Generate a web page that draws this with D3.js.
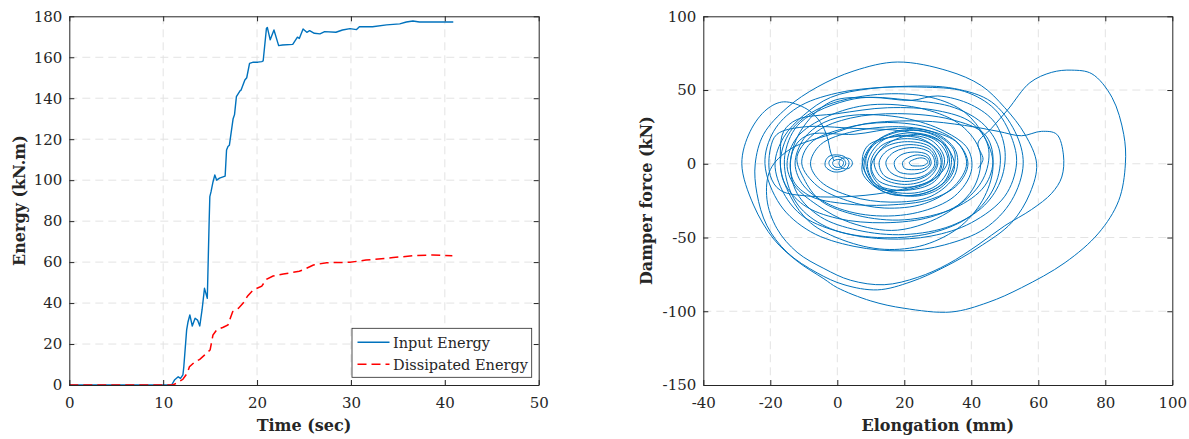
<!DOCTYPE html>
<html><head><meta charset="utf-8">
<script src="https://cdn.jsdelivr.net/npm/d3@7"></script>
<style>
body{margin:0;background:#fff}
svg{display:block}
text{font-family:"DejaVu Serif",serif;fill:#262626}
</style>
</head><body>
<svg id="c" width="1189" height="439"></svg>
<script>
// ---------- Left panel data ----------
const timeTicks = [0,10,20,30,40,50];
const energyTicks = [0,20,40,60,80,100,120,140,160,180];
const inputTime = [0,10.9,11.2,11.6,11.85,12.1,12.2,12.5,12.65,12.84,13.1,13.4,13.66,13.9,14.15,14.4,14.7,14.9,14.97,15.1,15.3,15.5,15.7,16.0,16.6,16.75,16.9,17.05,17.45,17.6,17.8,18.2,18.3,18.7,18.9,19.2,19.6,20.1,20.5,20.65,21.0,21.1,21.4,21.8,22.3,22.7,23.8,24.3,24.5,24.9,25.3,25.6,26.1,26.7,27.2,28.4,29.1,29.9,30.6,30.9,32.3,33.8,35.2,35.9,36.6,37.3,38.7,40.9];
const inputEnergy = [0,0,2.4,4,3.2,4.9,9,26.9,30.9,34.2,28.8,32.6,31.7,28.8,37,47.2,42.3,80.5,92,94.4,99,102.5,100,101,102,114.7,116.4,117,130,132,140.8,143.7,144,148.9,150,157,157.6,157.6,157.9,158.2,174.1,174.5,168.5,173.3,165.7,166,166.3,169.8,169.2,173.8,172.2,173,171.7,171.4,172.5,172.2,173.3,174,173.5,174.9,174.9,175.8,176.3,177.2,177.7,177.2,177.2,177.2];
const dissTime = [0,11.0,11.4,12.1,12.55,12.8,13.4,13.9,14.4,15.0,15.3,15.7,16.4,16.9,17.4,18.0,18.5,19.0,19.6,20.5,21.0,21.7,22.8,24.5,25.1,26.0,27.4,29.9,31.6,34.5,36.6,38.7,40.8];
const dissEnergy = [0,0,0.8,2.8,5.7,8.9,11.4,12.5,14.6,17.1,24.4,26.9,28.2,29.3,35.8,37.4,39.9,43.5,46.4,48.3,51.6,53.2,54.2,55.5,56.6,58.6,59.7,59.9,61,62.2,63.1,63.5,63.1];
const seriesNames = ["Input Energy","Dissipated Energy"];

// ---------- Right panel data ----------
const elongTicks = [-40,-20,0,20,40,60,80,100];
const forceTicks = [-150,-100,-50,0,50,100];
// open path [elongation mm, force kN]
const pathA = [[42,-3],[43.5,3],[42,14],[46,24],[51,37],[57.5,55],[64,62],[70,63.5],[76,61],[82,45],[85.5,20],[86,0],[84,-25],[78,-47],[68,-67],[55,-84],[45,-94],[34,-100.5],[20,-98],[10,-93],[0,-84],[-4,-78],[-12,-66],[-19,-51],[-25,-28],[-28.5,0],[-26,22],[-21,37],[-16,42],[-9,37],[-5,28],[-3,18],[-2,8],[-1,2]];
// closed loops
const loopD = [[-2,20],[8,27],[25,29],[38,26],[48,22],[55,19],[61,22],[65.5,20],[67.5,6],[67,-9],[64,-20],[58,-31],[50,-42],[42,-55],[33,-68],[24,-77],[14,-82],[4,-79],[-4,-71],[-12,-60],[-18,-44],[-21,-24],[-20,-4],[-14,10]];
const loopB = [[18,69],[33,63],[43,53],[50,38],[56,20],[59.5,0],[57.5,-20],[52,-40],[42,-57],[32,-70],[22,-80],[12,-85.5],[2,-82],[-6,-74],[-15,-60],[-21,-42],[-24,-20],[-24.5,0],[-22,20],[-15,38],[-6,52],[5,63]];
const loopC1 = [[20,52.5],[35,51],[46,42],[53,22],[55.5,0],[52,-25],[44,-44],[32,-55],[20,-59],[5,-56],[-8,-46],[-17,-28],[-21.6,0],[-19,22],[-12,38],[0,48]];
const loopC2 = [[10,51],[25,52],[38,49],[47,37],[52,18],[53.5,0],[50,-22],[40,-40],[28,-49],[15,-51],[2,-47],[-10,-36],[-16,-20],[-18.6,0],[-16,18],[-10,33],[-2,45]];
const loopC3 = [[12,47],[28,45],[38,35],[44,18],[46.5,0],[44,-22],[37,-42],[26,-55],[14,-58],[2,-52],[-8,-40],[-14,-22],[-17,0],[-14,22],[-5,38]];
const loopC4 = [[5,44],[22,43],[35,38],[44,26],[48.5,8],[47,-15],[40,-35],[28,-47],[12,-50],[-2,-44],[-11,-30],[-15,-12],[-15.5,8],[-11,28]];
const loopE1 = [[-12,30],[0,34],[15,38],[30,36],[40,28],[45,12],[44,-8],[38,-25],[28,-36],[14,-40],[0,-37],[-10,-28],[-16,-12],[-17,8],[-16,22]];
const loopE2 = [[-8,20],[5,20],[18,24],[28,22],[36,14],[39,0],[36,-14],[28,-24],[15,-28],[2,-27],[-8,-22],[-13,-12],[-14,2],[-12,14]];
const loopE3 = [[-2,42],[10,45],[22,43],[30,46],[40,40],[47,28],[50,10],[49,-10],[44,-28],[34,-42],[20,-48],[6,-45],[-5,-36],[-12,-20],[-14,0],[-11,22]];
const loopM1 = [[10,40],[26,37],[37,26],[42.6,8],[41,-15],[33,-33],[18,-45],[4,-40],[-6,-28],[-13,-14],[-15,0],[-12,18],[-3,32]];
const loopM2 = [[5,33],[20,31],[32,22],[39,10],[40,-5],[35,-22],[24,-33],[10,-35],[-2,-28],[-10,-15],[-12.6,0],[-10,17],[-4,28]];
const loopM3 = [[15,28],[28,24],[36,14],[38.6,0],[35,-15],[26,-27],[14,-30],[3,-25],[-6,-15],[-10.6,0],[-8,14],[2,24]];
const loopM4 = [[-10,25],[5,24],[20,22],[30,15],[33,2],[29,-10],[18,-18],[5,-22],[-8,-22],[-17,-18],[-20,-8],[-20,10],[-18,20]];
const loopM5 = [[20,25],[30,20],[35.5,8],[35,-8],[28,-22],[16,-26],[4,-22],[-5,-12],[-8,0],[-5,13],[5,22]];
const loopM6 = [[18,34],[34,30],[44,20],[46.5,3],[44,-15],[35,-30],[20,-38],[6,-35],[-5,-25],[-10,-10],[-12,5],[-6,22],[4,31]];
const loopK1 = [[20,23],[30,18],[34,5],[32,-12],[24,-21],[13,-18],[8,-3],[11,14]];
const loopK2 = [[22,21],[31,15],[33.5,0],[30,-14],[22,-20],[12,-15],[9,0],[13,15]];
const loopK3 = [[18,19],[28,16],[32,3],[29,-12],[20,-18],[11,-13],[8.5,2],[11,13]];
const loopK4 = [[24,20],[32,13],[35,-2],[31,-16],[23,-22],[14,-17],[10,-4],[14,12]];
const loopK5 = [[20,17],[28,13],[31,1],[28,-11],[20,-16],[12,-11],[10,1],[13,12]];
const loopK6 = [[21,15],[28,11],[30,0],[27,-10],[20,-14],[13,-9],[11,2],[14,11]];
const loopK7 = [[22,13],[28,9],[29.5,-1],[26,-9],[20,-12],[14,-8],[12.5,1],[15,9]];
const loopK8 = [[23,11],[28,7],[29,-1],[26,-8],[21,-10],[16,-6],[14.5,1],[17,8]];
const loopK9 = [[23,8],[27,6],[28,0],[26,-5],[22,-7],[18,-5],[17,1],[19,6]];
const loopK10 = [[24,6],[27,4],[27.5,0],[26,-3],[23,-4],[20,-3],[19.5,1],[21,4]];
const loopK11 = [[25,4],[26.5,3],[27,1],[26,-1],[24,-1.5],[22,-1],[21.5,1],[23,3]];
const loopK12 = [[19,22],[29,20],[35,8],[33,-10],[26,-20],[15,-20],[7.5,-6],[10,12]];
const loopK13 = [[16,18],[25,17],[31,6],[30,-8],[22,-17],[12,-16],[7.5,0],[9,12]];
const loopV1 = [[0,5],[2,3],[2.5,0],[1.5,-3],[-0.5,-4],[-2,-2],[-2.5,1],[-1.5,4]];
const loopV2 = [[0.5,3],[1.8,1.5],[1.5,-1.5],[0,-2.5],[-1.2,-1],[-1.3,1.5]];
const loopV3 = [[-1,6],[2,5],[3.5,1],[2.5,-4],[-1,-5.5],[-3.5,-2],[-3.5,2],[-2.5,5]];
const loopV4 = [[2,4],[4,3],[4.5,0],[3.5,-3],[1.5,-3],[0.5,0],[1,3]];
const openPaths = [pathA];
const closedLoops = [loopD,loopB,loopC1,loopC2,loopC3,loopC4,loopE1,loopE2,loopE3,loopM1,loopM2,loopM3,loopM4,loopM5,loopM6,
  loopK1,loopK2,loopK3,loopK4,loopK5,loopK6,loopK7,loopK8,loopK9,loopK10,loopK11,loopK12,loopK13,
  loopV1,loopV2,loopV3,loopV4];

// ---------- drawing ----------
const svg = d3.select("#c");
const BLUE = "#0072BD", RED = "#FF0000", AX = "#262626", GRID = "#e3e3e3";

function panel(o){
  const x = d3.scaleLinear().domain(o.xd).range([o.L,o.R]);
  const y = d3.scaleLinear().domain(o.yd).range([o.B,o.T]);
  const g = svg.append("g");
  g.append("g").selectAll("line").data(o.xt.filter(v=>v>o.xd[0]&&v<o.xd[1])).join("line")
    .attr("x1",d=>x(d)).attr("x2",d=>x(d)).attr("y1",o.T).attr("y2",o.B)
    .attr("stroke",GRID).attr("stroke-width",1).attr("stroke-dasharray","8,5");
  g.append("g").selectAll("line").data(o.yt.filter(v=>v>o.yd[0]&&v<o.yd[1])).join("line")
    .attr("y1",d=>y(d)).attr("y2",d=>y(d)).attr("x1",o.L).attr("x2",o.R)
    .attr("stroke",GRID).attr("stroke-width",1).attr("stroke-dasharray","8,5");
  const plot = g.append("g");
  const fs = "15px";
  const ab = g.append("g").attr("transform",`translate(0,${o.B})`)
    .call(d3.axisBottom(x).tickValues(o.xt).tickFormat(d3.format("d")).tickSizeInner(-5).tickSizeOuter(0).tickPadding(12));
  const al = g.append("g").attr("transform",`translate(${o.L},0)`)
    .call(d3.axisLeft(y).tickValues(o.yt).tickFormat(d3.format("d")).tickSizeInner(-5).tickSizeOuter(0).tickPadding(7));
  const at = g.append("g").attr("transform",`translate(0,${o.T})`)
    .call(d3.axisTop(x).tickValues(o.xt).tickFormat("").tickSizeInner(-5).tickSizeOuter(0));
  const ar = g.append("g").attr("transform",`translate(${o.R},0)`)
    .call(d3.axisRight(y).tickValues(o.yt).tickFormat("").tickSizeInner(-5).tickSizeOuter(0));
  [ab,al,at,ar].forEach(a=>{
    a.select(".domain").attr("stroke",AX).attr("stroke-width",1);
    a.selectAll(".tick line").attr("stroke",AX);
    a.selectAll("text").style("font-family","'DejaVu Serif',serif").style("font-size",fs).attr("fill",AX);
  });
  al.selectAll("text").text(d=>String(d));
  ab.selectAll("text").text(d=>String(d));
  g.append("text").attr("x",(o.L+o.R)/2).attr("y",431).attr("text-anchor","middle")
    .style("font-weight","bold").style("font-size","16px").text(o.xl);
  g.append("text").attr("transform",`translate(${o.ylx},${(o.T+o.B)/2}) rotate(-90)`).attr("text-anchor","middle")
    .style("font-weight","bold").style("font-size","16px").text(o.yl);
  return {x,y,plot};
}

// Left panel
const P1 = panel({L:69.3,R:538.7,T:16.3,B:385,xd:[0,50],yd:[0,180],xt:timeTicks,yt:energyTicks,
  xl:"Time (sec)",yl:"Energy (kN.m)",ylx:25});
const line1 = d3.line().x(d=>P1.x(d[0])).y(d=>P1.y(d[1]));
P1.plot.append("path").attr("d",line1(d3.zip(inputTime,inputEnergy)))
  .attr("fill","none").attr("stroke",BLUE).attr("stroke-width",1.4).attr("stroke-linejoin","round");
P1.plot.append("path").attr("d",line1(d3.zip(dissTime,dissEnergy)))
  .attr("fill","none").attr("stroke",RED).attr("stroke-width",1.5).attr("stroke-dasharray","9,5");

// legend
const lg = svg.append("g");
lg.append("rect").attr("x",352).attr("y",328.3).attr("width",179.7).attr("height",49)
  .attr("fill","#fff").attr("stroke",AX).attr("stroke-width",0.8);
[[BLUE,null,342.3],[RED,"9,5",364.3]].forEach((s,i)=>{
  lg.append("line").attr("x1",357.5).attr("x2",389.5).attr("y1",s[2]).attr("y2",s[2])
    .attr("stroke",s[0]).attr("stroke-width",i?1.5:1.4).attr("stroke-dasharray",s[1]);
  lg.append("text").attr("x",393).attr("y",s[2]+5.5).style("font-size","14.5px").text(seriesNames[i]);
});

// Right panel
const P2 = panel({L:703.3,R:1172.3,T:16.3,B:385,xd:[-40,100],yd:[-150,100],xt:elongTicks,yt:forceTicks,
  xl:"Elongation (mm)",yl:"Damper force (kN)",ylx:652});
const lineOpen = d3.line().x(d=>P2.x(d[0])).y(d=>P2.y(d[1])).curve(d3.curveCatmullRom.alpha(0.5));
const lineClosed = d3.line().x(d=>P2.x(d[0])).y(d=>P2.y(d[1])).curve(d3.curveCatmullRomClosed.alpha(0.5));
P2.plot.selectAll("path.c").data(closedLoops).join("path").attr("class","c").attr("d",lineClosed)
  .attr("fill","none").attr("stroke",BLUE).attr("stroke-width",1);
P2.plot.selectAll("path.o").data(openPaths).join("path").attr("class","o").attr("d",lineOpen)
  .attr("fill","none").attr("stroke",BLUE).attr("stroke-width",1);
</script>
</body></html>
